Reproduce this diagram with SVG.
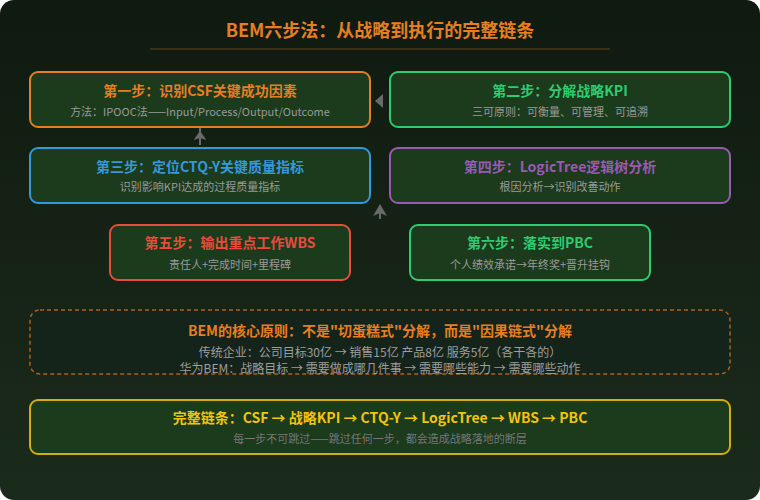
<svg xmlns="http://www.w3.org/2000/svg" width="760" height="500" viewBox="0 0 760 500">
<defs>
<linearGradient id="bg" x1="0" y1="0" x2="0" y2="1">
<stop offset="0" stop-color="#0f1a10"/>
<stop offset="1" stop-color="#1b2b1b"/>
</linearGradient>
<style>
.box{fill:#1c3a1c;stroke-width:2}
.t{font-family:"Noto Sans CJK SC","Noto Sans",sans-serif;text-anchor:middle}
.h{font-size:14px;font-weight:bold}
.s{font-size:11px;fill:#9a9a9a}
.arr{fill:#6a6a6a;stroke:none}
.ln{stroke:#6a6a6a;stroke-width:2}
</style>
</defs>
<rect x="0" y="0" width="760" height="500" fill="#ffffff"/>
<rect x="0" y="0" width="760" height="500" rx="14" fill="url(#bg)"/>
<g id="title">
<text class="t" x="380" y="37" font-size="18" font-weight="bold" fill="#e67e22">BEM六步法：从战略到执行的完整链条</text>
<line x1="150" y1="49" x2="610" y2="49" stroke="#e67e22" stroke-opacity="0.2" stroke-width="2"/>
</g>
<g id="connectors">
<polygon class="arr" points="375,101 383,94 383,108"/>
<line class="ln" x1="200" y1="145" x2="200" y2="128"/>
<polygon class="arr" points="200,131 206.5,140 200,138 193.5,140"/>
<line class="ln" x1="380" y1="219" x2="380" y2="205"/>
<polygon class="arr" points="380,204 387,216 380,213 373,216"/>
</g>
<g id="step1">
<rect class="box" x="30" y="72" width="340" height="55" rx="8" stroke="#e67e22"/>
<text class="t h" x="200" y="95.5" fill="#e67e22">第一步：识别CSF关键成功因素</text>
<text class="t s" x="200" y="116">方法：IPOOC法——Input/Process/Output/Outcome</text>
</g>
<g id="step2">
<rect class="box" x="390" y="72" width="340" height="55" rx="8" stroke="#2ecc71"/>
<text class="t h" x="560" y="95.5" fill="#2ecc71">第二步：分解战略KPI</text>
<text class="t s" x="560" y="116">三可原则：可衡量、可管理、可追溯</text>
</g>
<g id="step3">
<rect class="box" x="30" y="148" width="340" height="55" rx="8" stroke="#3498db"/>
<text class="t h" x="200" y="171.5" fill="#3498db">第三步：定位CTQ-Y关键质量指标</text>
<text class="t s" x="200" y="191">识别影响KPI达成的过程质量指标</text>
</g>
<g id="step4">
<rect class="box" x="390" y="148" width="340" height="55" rx="8" stroke="#9b59b6"/>
<text class="t h" x="560" y="171.5" fill="#9b59b6">第四步：LogicTree逻辑树分析</text>
<text class="t s" x="560" y="191">根因分析→识别改善动作</text>
</g>
<g id="step5">
<rect class="box" x="110" y="225" width="240" height="55" rx="8" stroke="#e74c3c"/>
<text class="t h" x="230" y="248" fill="#e74c3c">第五步：输出重点工作WBS</text>
<text class="t s" x="230" y="268.5">责任人+完成时间+里程碑</text>
</g>
<g id="step6">
<rect class="box" x="410" y="225" width="240" height="55" rx="8" stroke="#2ecc71"/>
<text class="t h" x="530" y="248" fill="#2ecc71">第六步：落实到PBC</text>
<text class="t s" x="530" y="268.5">个人绩效承诺→年终奖+晋升挂钩</text>
</g>
<g id="principle">
<rect x="30" y="310" width="700" height="64" rx="10" fill="#15241a" stroke="#e67e22" stroke-opacity="0.7" stroke-width="1.5" stroke-dasharray="4,3"/>
<text class="t h" x="380" y="335.5" fill="#e67e22">BEM的核心原则：不是"切蛋糕式"分解，而是"因果链式"分解</text>
<text class="t" x="380" y="357" font-size="12" fill="#9e9e9e">传统企业：公司目标30亿 → 销售15亿 产品8亿 服务5亿（各干各的）</text>
<text class="t" x="380" y="372.5" font-size="12" fill="#9e9e9e">华为BEM：战略目标 → 需要做成哪几件事 → 需要哪些能力 → 需要哪些动作</text>
</g>
<g id="chain">
<rect class="box" x="30" y="400" width="700" height="54" rx="8" stroke="#d4ac0d"/>
<text class="t h" x="380" y="422.5" fill="#f1c40f">完整链条：CSF → 战略KPI → CTQ-Y → LogicTree → WBS → PBC</text>
<text class="t" x="380" y="442.5" font-size="11" fill="#777777">每一步不可跳过——跳过任何一步，都会造成战略落地的断层</text>
</g>
</svg>
